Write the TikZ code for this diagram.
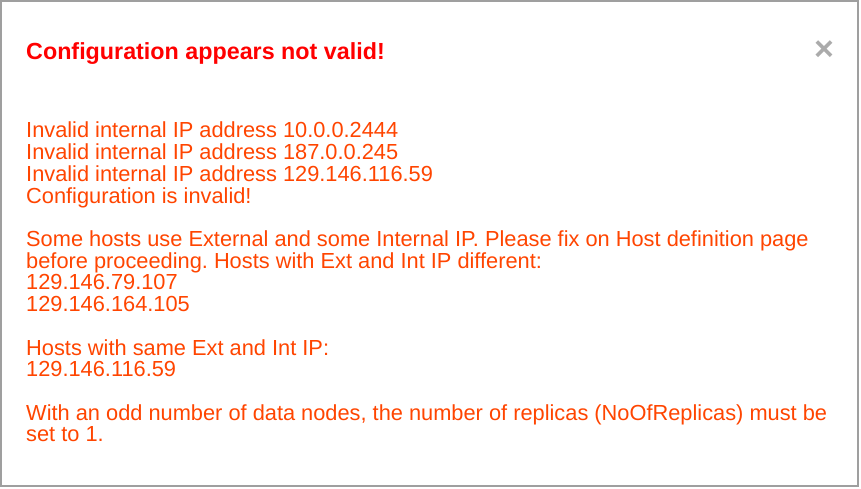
\documentclass[tikz,border=0pt]{standalone}
\usepackage{fontspec}
\setmainfont{Liberation Sans}
\frenchspacing
\definecolor{errred}{HTML}{FF0000}
\definecolor{msgorange}{HTML}{FF4500}
\definecolor{closegray}{HTML}{ABABAB}
\begin{document}
\begin{tikzpicture}[x=1pt,y=-1pt]
    \tikzstyle{title node}=[anchor=base west,inner sep=0,text=errred,font=\fontsize{23.3}{26}\selectfont\bfseries]
    \tikzstyle{msg node}=[anchor=base west,inner sep=0,text=msgorange,font=\fontsize{21.8}{22}\selectfont]
    \tikzset{
    dialog/.style={draw=gray!75,line width=2pt,fill=white},
    close node/.style={inner sep=0,text=closegray,font=\fontsize{34}{34}\selectfont\bfseries}
    }
    \useasboundingbox (0,0) rectangle (861,489);
    \draw[dialog] (1,1) rectangle (858,486);
    \node[title node] (title) at (26,60) {Configuration appears not valid!};
    \node[close node] (close) at (824,51) {×};
    \foreach \y/\t [count=\i] in {
        138/{Invalid internal IP address 10.0.0.2444},
        159.7/{Invalid internal IP address 187.0.0.245},
        181.4/{Invalid internal IP address 129.146.116.59},
        203.1/{Configuration is invalid!},
        246.5/{Some hosts use External and some Internal IP. Please fix on Host definition page},
        268.2/{before proceeding. Hosts with Ext and Int IP different:},
        289.9/{129.146.79.107},
        311.6/{129.146.164.105},
        355/{Hosts with same Ext and Int IP:},
        376.7/{129.146.116.59},
        420.1/{With an odd number of data nodes, the number of replicas (NoOfReplicas) must be},
        441.8/{set to 1.}}
    \node[msg node] (msg\i) at (26,\y) {\t};
\end{tikzpicture}
\end{document}
